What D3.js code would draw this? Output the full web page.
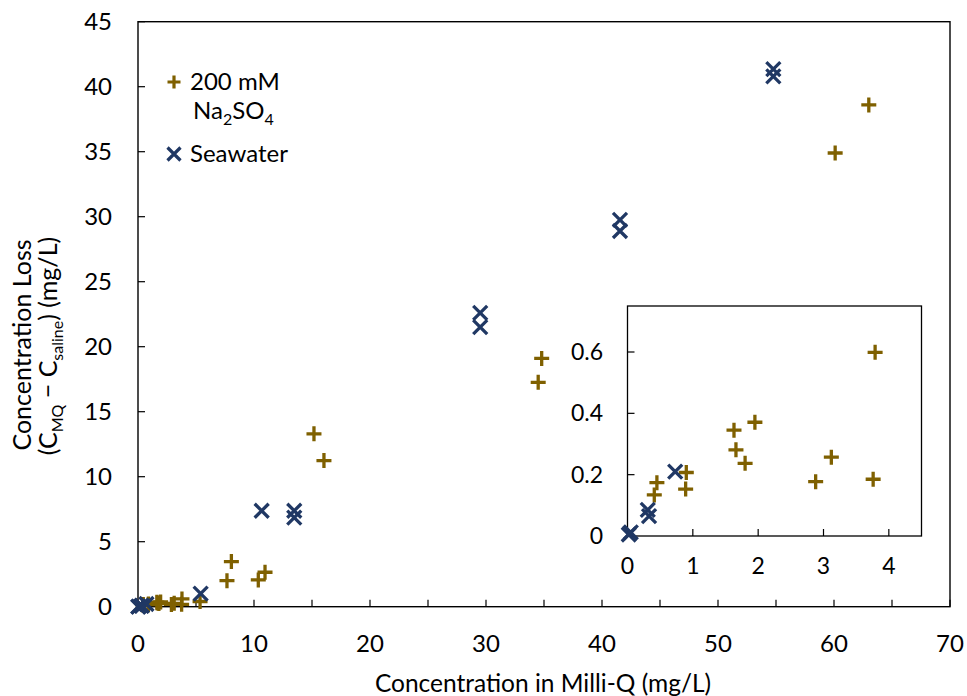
<!DOCTYPE html>
<html>
<head>
<meta charset="utf-8">
<title>Concentration loss</title>
<script src="https://cdn.jsdelivr.net/npm/d3@7"></script>
<style>
  html, body { margin: 0; padding: 0; background: #fff; }
  svg text { font-family: Lato, "Open Sans", sans-serif; fill: #000; }
</style>
</head>
<body>
<svg id="chart" width="967" height="696"></svg>
<script>
// 200 mM Na2SO4 series
var na2so4X = [0.41, 0.45, 0.89, 0.90, 1.63, 1.66, 1.80, 1.95, 2.88, 3.12, 3.76, 3.79,
               5.35, 7.67, 8.05, 10.37, 10.95, 15.17, 16.03, 34.5, 34.8, 60.1, 63.0];
var na2so4Y = [0.134, 0.174, 0.153, 0.207, 0.345, 0.281, 0.237, 0.371, 0.177, 0.257, 0.185, 0.599,
               0.40, 2.0, 3.47, 2.06, 2.65, 13.3, 11.24, 17.26, 19.1, 34.9, 38.6];

// Seawater series
var seawaterX = [0.02, 0.05, 0.31, 0.33, 0.73, 5.4, 10.66, 13.47, 13.47, 29.5, 29.5, 41.55, 41.55, 54.77, 54.77];
var seawaterY = [0.005, 0.012, 0.085, 0.065, 0.21, 1.0, 7.38, 7.38, 6.85, 22.6, 21.5, 29.75, 28.9, 41.35, 40.8];

// ticks
var mainXTicks = [0, 5, 10, 15, 20, 25, 30, 35, 40, 45, 50, 55, 60, 65, 70];
var mainXLabels = [0, 10, 20, 30, 40, 50, 60, 70];
var mainYTicks = [0, 5, 10, 15, 20, 25, 30, 35, 40, 45];
var insetXTicks = [0, 1, 2, 3, 4];
var insetYTicks = [0, 0.2, 0.4, 0.6];

var gold = "#7f6000", navy = "#203864";

var svg = d3.select("#chart");

var plusPath = function(s) { return "M" + (-s) + ",0H" + s + "M0," + (-s) + "V" + s; };
var crossPath = function(s) { return "M" + (-s) + "," + (-s) + "L" + s + "," + s + "M" + (-s) + "," + s + "L" + s + "," + (-s); };

function drawPoints(g, xs, ys, x, y, shape, color, maxX, maxY) {
  var pts = xs.map(function(d, i) { return [d, ys[i]]; })
    .filter(function(p) { return p[0] <= maxX && p[1] <= maxY; });
  g.selectAll(null)
    .data(pts)
    .enter()
    .append("path")
    .attr("d", shape)
    .attr("transform", function(p) { return "translate(" + x(p[0]) + "," + y(p[1]) + ")"; })
    .attr("fill", "none")
    .attr("stroke", color)
    .attr("stroke-width", 3.3);
}

// MAIN CHART
var x = d3.scaleLinear().domain([0, 70]).range([138, 950]);
var y = d3.scaleLinear().domain([0, 45]).range([606.7, 21.7]);

var main = svg.append("g");

main.selectAll(".xt")
  .data(mainXTicks).enter().append("line")
  .attr("x1", function(d) { return x(d); }).attr("x2", function(d) { return x(d); })
  .attr("y1", y(0)).attr("y2", y(0) - 7)
  .attr("stroke", "#000").attr("stroke-width", 1.2);

main.selectAll(".yt")
  .data(mainYTicks).enter().append("line")
  .attr("y1", function(d) { return y(d); }).attr("y2", function(d) { return y(d); })
  .attr("x1", x(0)).attr("x2", x(0) + 7)
  .attr("stroke", "#000").attr("stroke-width", 1.2);

main.append("rect")
  .attr("x", x(0)).attr("y", y(45))
  .attr("width", x(70) - x(0)).attr("height", y(0) - y(45))
  .attr("fill", "none").attr("stroke", "#000").attr("stroke-width", 1.4);

main.selectAll(".xl")
  .data(mainXLabels).enter().append("text")
  .attr("x", function(d) { return x(d); })
  .attr("y", 652)
  .attr("text-anchor", "middle")
  .style("font-size", "24px")
  .text(function(d) { return d; });

main.selectAll(".yl")
  .data(mainYTicks).enter().append("text")
  .attr("x", 112)
  .attr("y", function(d) { return y(d) + 8.5; })
  .attr("text-anchor", "end")
  .style("font-size", "24px")
  .text(function(d) { return d; });

// axis titles
main.append("text")
  .attr("x", 543).attr("y", 692)
  .attr("text-anchor", "middle")
  .style("font-size", "24.5px")
  .text("Concentration in Milli-Q (mg/L)");

var yt1 = main.append("text")
  .attr("transform", "translate(31,345) rotate(-90)")
  .attr("text-anchor", "middle")
  .style("font-size", "25px")
  .text("Concentration Loss");

var yt2 = main.append("text")
  .attr("transform", "translate(57,346) rotate(-90)")
  .attr("text-anchor", "middle")
  .style("font-size", "25px");
yt2.append("tspan").text("(C");
yt2.append("tspan").attr("dy", 6).style("font-size", "16px").text("MQ");
yt2.append("tspan").attr("dy", -6).text(" \u2212 C");
yt2.append("tspan").attr("dy", 6).style("font-size", "16px").text("saline");
yt2.append("tspan").attr("dy", -6).text(") (mg/L)");

drawPoints(main, na2so4X, na2so4Y, x, y, plusPath(7.5), gold, 70, 45);
drawPoints(main, seawaterX, seawaterY, x, y, crossPath(7), navy, 70, 45);

// legend
var leg = svg.append("g");
leg.append("path").attr("d", plusPath(6.5)).attr("transform", "translate(174,82)")
  .attr("fill", "none").attr("stroke", gold).attr("stroke-width", 3.2);
leg.append("text").attr("x", 190).attr("y", 90).style("font-size", "24px").text("200 mM");
var na = leg.append("text").attr("x", 193).attr("y", 119).style("font-size", "24px");
na.append("tspan").text("Na");
na.append("tspan").attr("dy", 6).style("font-size", "16px").text("2");
na.append("tspan").attr("dy", -6).text("SO");
na.append("tspan").attr("dy", 6).style("font-size", "16px").text("4");
leg.append("path").attr("d", crossPath(6.5)).attr("transform", "translate(174,154)")
  .attr("fill", "none").attr("stroke", navy).attr("stroke-width", 3.2);
leg.append("text").attr("x", 190).attr("y", 162).style("font-size", "24px").text("Seawater");

// INSET
var ix = d3.scaleLinear().domain([0, 4.5]).range([627.5, 921.5]);
var iy = d3.scaleLinear().domain([0, 0.75]).range([536, 306]);

var inset = svg.append("g");
inset.append("rect")
  .attr("x", ix(0)).attr("y", iy(0.75))
  .attr("width", ix(4.5) - ix(0)).attr("height", iy(0) - iy(0.75))
  .attr("fill", "#fff").attr("stroke", "#000").attr("stroke-width", 1.3);

inset.selectAll(".ixt")
  .data(insetXTicks).enter().append("line")
  .attr("x1", function(d) { return ix(d); }).attr("x2", function(d) { return ix(d); })
  .attr("y1", iy(0)).attr("y2", iy(0) - 7)
  .attr("stroke", "#000").attr("stroke-width", 1.2);

inset.selectAll(".iyt")
  .data(insetYTicks).enter().append("line")
  .attr("y1", function(d) { return iy(d); }).attr("y2", function(d) { return iy(d); })
  .attr("x1", ix(0)).attr("x2", ix(0) + 7)
  .attr("stroke", "#000").attr("stroke-width", 1.2);

inset.selectAll(".ixl")
  .data(insetXTicks).enter().append("text")
  .attr("x", function(d) { return ix(d); })
  .attr("y", 574)
  .attr("text-anchor", "middle")
  .style("font-size", "23px")
  .text(function(d) { return d; });

inset.selectAll(".iyl")
  .data(insetYTicks).enter().append("text")
  .attr("x", 603)
  .attr("y", function(d) { return iy(d) + 8; })
  .attr("text-anchor", "end")
  .style("font-size", "23px")
  .text(function(d) { return d === 0 ? "0" : d.toFixed(1); });

drawPoints(inset, na2so4X, na2so4Y, ix, iy, plusPath(7.5), gold, 4.5, 0.75);
drawPoints(inset, seawaterX, seawaterY, ix, iy, crossPath(7), navy, 4.5, 0.75);
</script>
</body>
</html>
